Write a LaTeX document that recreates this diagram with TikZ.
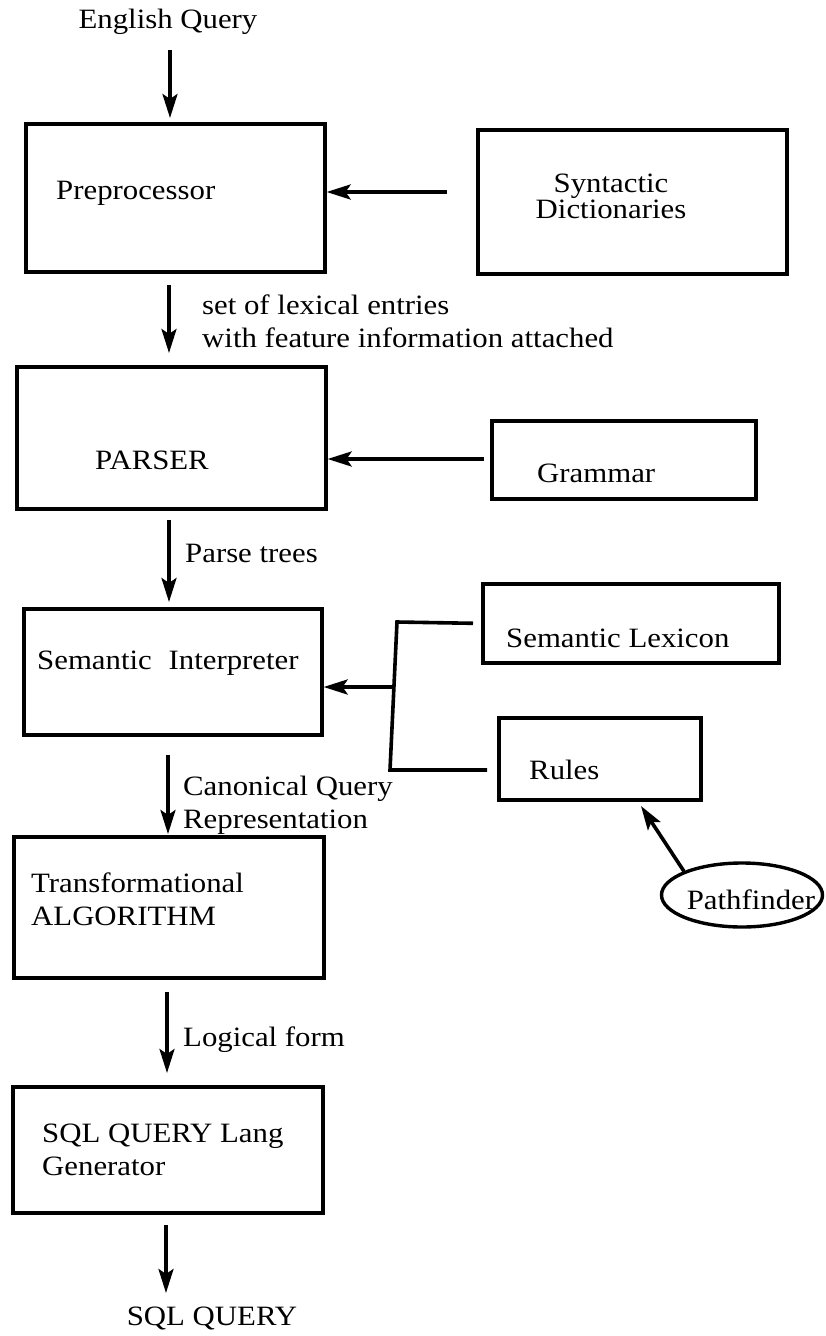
\documentclass[tikz,border=0pt]{standalone}
\usepackage{fontspec}
\setmainfont{Liberation Serif}[FakeStretch=1.1]
\usetikzlibrary{arrows.meta,shapes.geometric}
\begin{document}
\begin{tikzpicture}[x=1pt,y=-1pt,
  box/.style={draw,line width=3.6pt,inner sep=0pt,anchor=north west},
  lbl/.style={inner sep=0pt,anchor=west,align=left,font=\fontsize{28}{33}\selectfont},
  clbl/.style={inner sep=0pt,anchor=center,align=center,font=\fontsize{28}{33}\selectfont},
  arr/.style={line width=3.6pt,-{Stealth[length=24pt,width=15pt,inset=5pt]}},
  wire/.style={line width=3.6pt},
]
\useasboundingbox (0,0) rectangle (826,1336);

% processing boxes
\node[box,minimum width=299pt,minimum height=148pt] (pre) at (24,122) {};
\node[box,minimum width=309pt,minimum height=144pt] (syn) at (476,128) {};
\node[box,minimum width=309pt,minimum height=142pt] (par) at (15,365) {};
\node[box,minimum width=264pt,minimum height=78pt] (gram) at (490,419) {};
\node[box,minimum width=298pt,minimum height=126pt] (sem) at (22,607) {};
\node[box,minimum width=296pt,minimum height=79pt] (lex) at (481,582) {};
\node[box,minimum width=202pt,minimum height=82pt] (rules) at (497,716) {};
\node[box,minimum width=310pt,minimum height=141pt] (trans) at (12,835) {};
\node[box,minimum width=310pt,minimum height=126pt] (sql) at (11,1085) {};
\node[draw,ellipse,line width=3.4pt,minimum width=161pt,minimum height=64pt,inner sep=0pt] (pf) at (742,895) {};

% texts
\node[clbl] (tEQ) at (168,22) {English Query};
\node[lbl] (tPre) at (56,193) {Preprocessor};
\node[clbl,font=\fontsize{28}{26}\selectfont] (tSyn) at (611,196) {Syntactic\\Dictionaries};
\node[lbl] (tSet) at (202,321) {set of lexical entries\\with feature information attached};
\node[lbl] (tPar) at (95,460) {PARSER};
\node[lbl] (tGram) at (537,473) {Grammar};
\node[lbl] (tPT) at (185,553) {Parse trees};
\node[lbl] (tSem) at (37,663) {Semantic\hspace{0.6em}Interpreter};
\node[lbl] (tLex) at (506,638) {Semantic Lexicon};
\node[lbl] (tRules) at (529,770) {Rules};
\node[lbl] (tCQ) at (183,805) {Canonical Query\\Representation};
\node[lbl] (tTr) at (31,899) {Transformational\\ALGORITHM};
\node[clbl] (tPF) at (751,900) {Pathfinder};
\node[lbl] (tLF) at (183,1040) {Logical form};
\node[lbl] (tSQLg) at (42,1150) {SQL QUERY Lang\\Generator};
\node[clbl] (tSQL) at (212,1318) {SQL QUERY};

% free ends of the connectors
\coordinate (s1) at (170,50);
\coordinate (s2) at (447,192);
\coordinate (s3) at (169,285);
\coordinate (s4) at (484,459);
\coordinate (s5) at (169,520);
\coordinate (b1) at (397,622);
\coordinate (b2) at (390,770);
\coordinate (b0) at (394.5,687);
\coordinate (s6) at (168,755);
\coordinate (s7) at (167,992);
\coordinate (s8) at (166,1225);
\coordinate (e8) at (166,1293);
\coordinate (rt) at (641,806);

% main flow
\draw[arr,shorten >=4pt] (s1) -- (s1 |- pre.north);
\draw[arr] (s2) -- (pre.east |- s2);
\draw[arr,shorten >=12pt] (s3) -- (s3 |- par.north);
\draw[arr] (s4) -- (par.east |- s4);
\draw[arr,shorten >=5pt] (s5) -- (s5 |- sem.north);
\draw[arr,shorten >=1pt] (s6) -- (s6 |- trans.north);
\draw[arr,shorten >=12pt] (s7) -- (s7 |- sql.north);
\draw[arr] (s8) -- (e8);

% lexicon and rules feed the interpreter
\draw[wire,line join=miter] ([xshift=-8pt]lex.west) -- (b1) -- (b2) -- ([xshift=-10pt]rules.west |- b2);
\draw[arr] (b0) -- (sem.east |- b0);

% pathfinder supplies the rules
\draw[arr] (pf.north west) -- (rt);
\end{tikzpicture}
\end{document}
